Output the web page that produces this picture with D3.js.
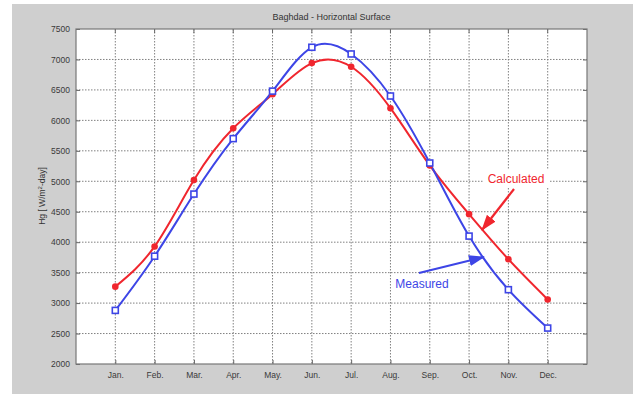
<!DOCTYPE html>
<html>
<head>
<meta charset="utf-8">
<script src="https://cdn.jsdelivr.net/npm/d3@7"></script>
<style>
  body { margin: 0; background: #fff; }
  text { font-family: "Liberation Sans", Arial, sans-serif; }
</style>
</head>
<body>
<div id="chart"></div>
<script>
var width = 640, height = 396;

var months = ["Jan.", "Feb.", "Mar.", "Apr.", "May.", "Jun.", "Jul.", "Aug.", "Sep.", "Oct.", "Nov.", "Dec."];
var measured = [2880, 3770, 4790, 5700, 6480, 7200, 7090, 6400, 5300, 4100, 3220, 2590];
var calculated = [3270, 3930, 5020, 5870, 6430, 6940, 6880, 6200, 5260, 4460, 3720, 3060];
var yTicks = [2000, 2500, 3000, 3500, 4000, 4500, 5000, 5500, 6000, 6500, 7000, 7500];

var blue = "#3d45e6", red = "#f0262e";

var svg = d3.select("#chart").append("svg")
    .attr("width", width)
    .attr("height", height);

// gray figure background
svg.append("rect")
    .attr("x", 12).attr("y", 4)
    .attr("width", 621).attr("height", 390)
    .attr("fill", "#cfcfcf");

var plot = {left: 76, top: 29, right: 587, bottom: 364};

var xScale = d3.scaleLinear().domain([0, 13]).range([plot.left, plot.right]);
var yScale = d3.scaleLinear().domain([2000, 7500]).range([plot.bottom, plot.top]);

svg.append("rect")
    .attr("x", plot.left).attr("y", plot.top)
    .attr("width", plot.right - plot.left).attr("height", plot.bottom - plot.top)
    .attr("fill", "#fff");

// grid
svg.selectAll(".vgrid")
    .data(months)
    .enter().append("line")
    .attr("x1", function(d, i){ return xScale(i + 1); })
    .attr("x2", function(d, i){ return xScale(i + 1); })
    .attr("y1", plot.top).attr("y2", plot.bottom)
    .attr("stroke", "#808080").attr("stroke-width", 1)
    .attr("stroke-dasharray", "1.5,1.5");

svg.selectAll(".hgrid")
    .data(yTicks.slice(1, -1))
    .enter().append("line")
    .attr("x1", plot.left).attr("x2", plot.right)
    .attr("y1", function(d){ return yScale(d); })
    .attr("y2", function(d){ return yScale(d); })
    .attr("stroke", "#808080").attr("stroke-width", 1)
    .attr("stroke-dasharray", "1.5,1.5");

// axes
var xAxis = d3.axisBottom(xScale)
    .tickValues(d3.range(1, 13))
    .tickSize(-4).tickPadding(8)
    .tickFormat(function(d){ return months[d - 1]; });
var gx = svg.append("g").attr("transform", "translate(0," + plot.bottom + ")").call(xAxis);

var yAxis = d3.axisLeft(yScale).tickValues(yTicks).tickSize(-4).tickPadding(6).tickFormat(d3.format("d"));
var gy = svg.append("g").attr("transform", "translate(" + plot.left + ",0)").call(yAxis);

var yAxisR = d3.axisRight(yScale).tickValues(yTicks).tickSize(-4).tickFormat("");
var gyr = svg.append("g").attr("transform", "translate(" + plot.right + ",0)").call(yAxisR);

[gx, gy, gyr].forEach(function(g){
    g.select(".domain").remove();
    g.selectAll("line").attr("stroke", "#666");
    g.selectAll("text").attr("fill", "#3a3a3a").attr("font-size", 8.5);
});

// top x ticks
svg.selectAll(".xtop")
    .data(months)
    .enter().append("line")
    .attr("x1", function(d, i){ return xScale(i + 1); })
    .attr("x2", function(d, i){ return xScale(i + 1); })
    .attr("y1", plot.top).attr("y2", plot.top + 4)
    .attr("stroke", "#666");

svg.append("rect")
    .attr("x", plot.left).attr("y", plot.top)
    .attr("width", plot.right - plot.left).attr("height", plot.bottom - plot.top)
    .attr("fill", "none").attr("stroke", "#777").attr("stroke-width", 1.2);

// curves
var line = d3.line()
    .x(function(d, i){ return xScale(i + 1); })
    .y(function(d){ return yScale(d); })
    .curve(d3.curveNatural);

svg.append("path").datum(calculated)
    .attr("d", line).attr("fill", "none")
    .attr("stroke", red).attr("stroke-width", 2);

svg.append("path").datum(measured)
    .attr("d", line).attr("fill", "none")
    .attr("stroke", blue).attr("stroke-width", 2);

svg.selectAll(".cdot")
    .data(calculated)
    .enter().append("circle")
    .attr("cx", function(d, i){ return xScale(i + 1); })
    .attr("cy", function(d){ return yScale(d); })
    .attr("r", 3.3)
    .attr("fill", red);

svg.selectAll(".msq")
    .data(measured)
    .enter().append("rect")
    .attr("x", function(d, i){ return xScale(i + 1) - 3; })
    .attr("y", function(d){ return yScale(d) - 3; })
    .attr("width", 6).attr("height", 6)
    .attr("fill", "#fff")
    .attr("stroke", blue).attr("stroke-width", 1.6);

// title and label
svg.append("text")
    .attr("x", (plot.left + plot.right) / 2).attr("y", 20)
    .attr("text-anchor", "middle")
    .attr("font-size", 9).attr("fill", "#333")
    .text("Baghdad - Horizontal Surface");

var ylab = svg.append("text")
    .attr("transform", "translate(45,196) rotate(-90)")
    .attr("text-anchor", "middle")
    .attr("font-size", 8.5).attr("fill", "#333");
ylab.append("tspan").text("Hg [ W/m");
ylab.append("tspan").attr("font-size", 6).attr("dy", -3).text("2");
ylab.append("tspan").attr("dy", 3).text("-day]");

// annotations
var defs = svg.append("defs");
[["arrRed", red], ["arrBlue", blue]].forEach(function(a){
    defs.append("marker")
        .attr("id", a[0])
        .attr("viewBox", "0 0 16 11")
        .attr("refX", 15).attr("refY", 5.5)
        .attr("markerWidth", 16).attr("markerHeight", 11)
        .attr("orient", "auto")
        .attr("markerUnits", "userSpaceOnUse")
      .append("path")
        .attr("d", "M0,0 L16,5.5 L0,11 Z")
        .attr("fill", a[1]);
});

svg.append("rect").attr("x", 483).attr("y", 169).attr("width", 66).attr("height", 18).attr("fill", "#fff");
svg.append("text")
    .attr("x", 516).attr("y", 183)
    .attr("text-anchor", "middle")
    .attr("font-size", 12).attr("fill", red)
    .text("Calculated");
svg.append("line")
    .attr("x1", 514).attr("y1", 189).attr("x2", 482).attr("y2", 230)
    .attr("stroke", red).attr("stroke-width", 2.2)
    .attr("marker-end", "url(#arrRed)");

svg.append("rect").attr("x", 391).attr("y", 275).attr("width", 64).attr("height", 17).attr("fill", "#fff");
svg.append("text")
    .attr("x", 422).attr("y", 288)
    .attr("text-anchor", "middle")
    .attr("font-size", 12).attr("fill", blue)
    .text("Measured");
svg.append("line")
    .attr("x1", 419).attr("y1", 273).attr("x2", 484).attr("y2", 257)
    .attr("stroke", blue).attr("stroke-width", 2.2)
    .attr("marker-end", "url(#arrBlue)");
</script>
</body>
</html>
